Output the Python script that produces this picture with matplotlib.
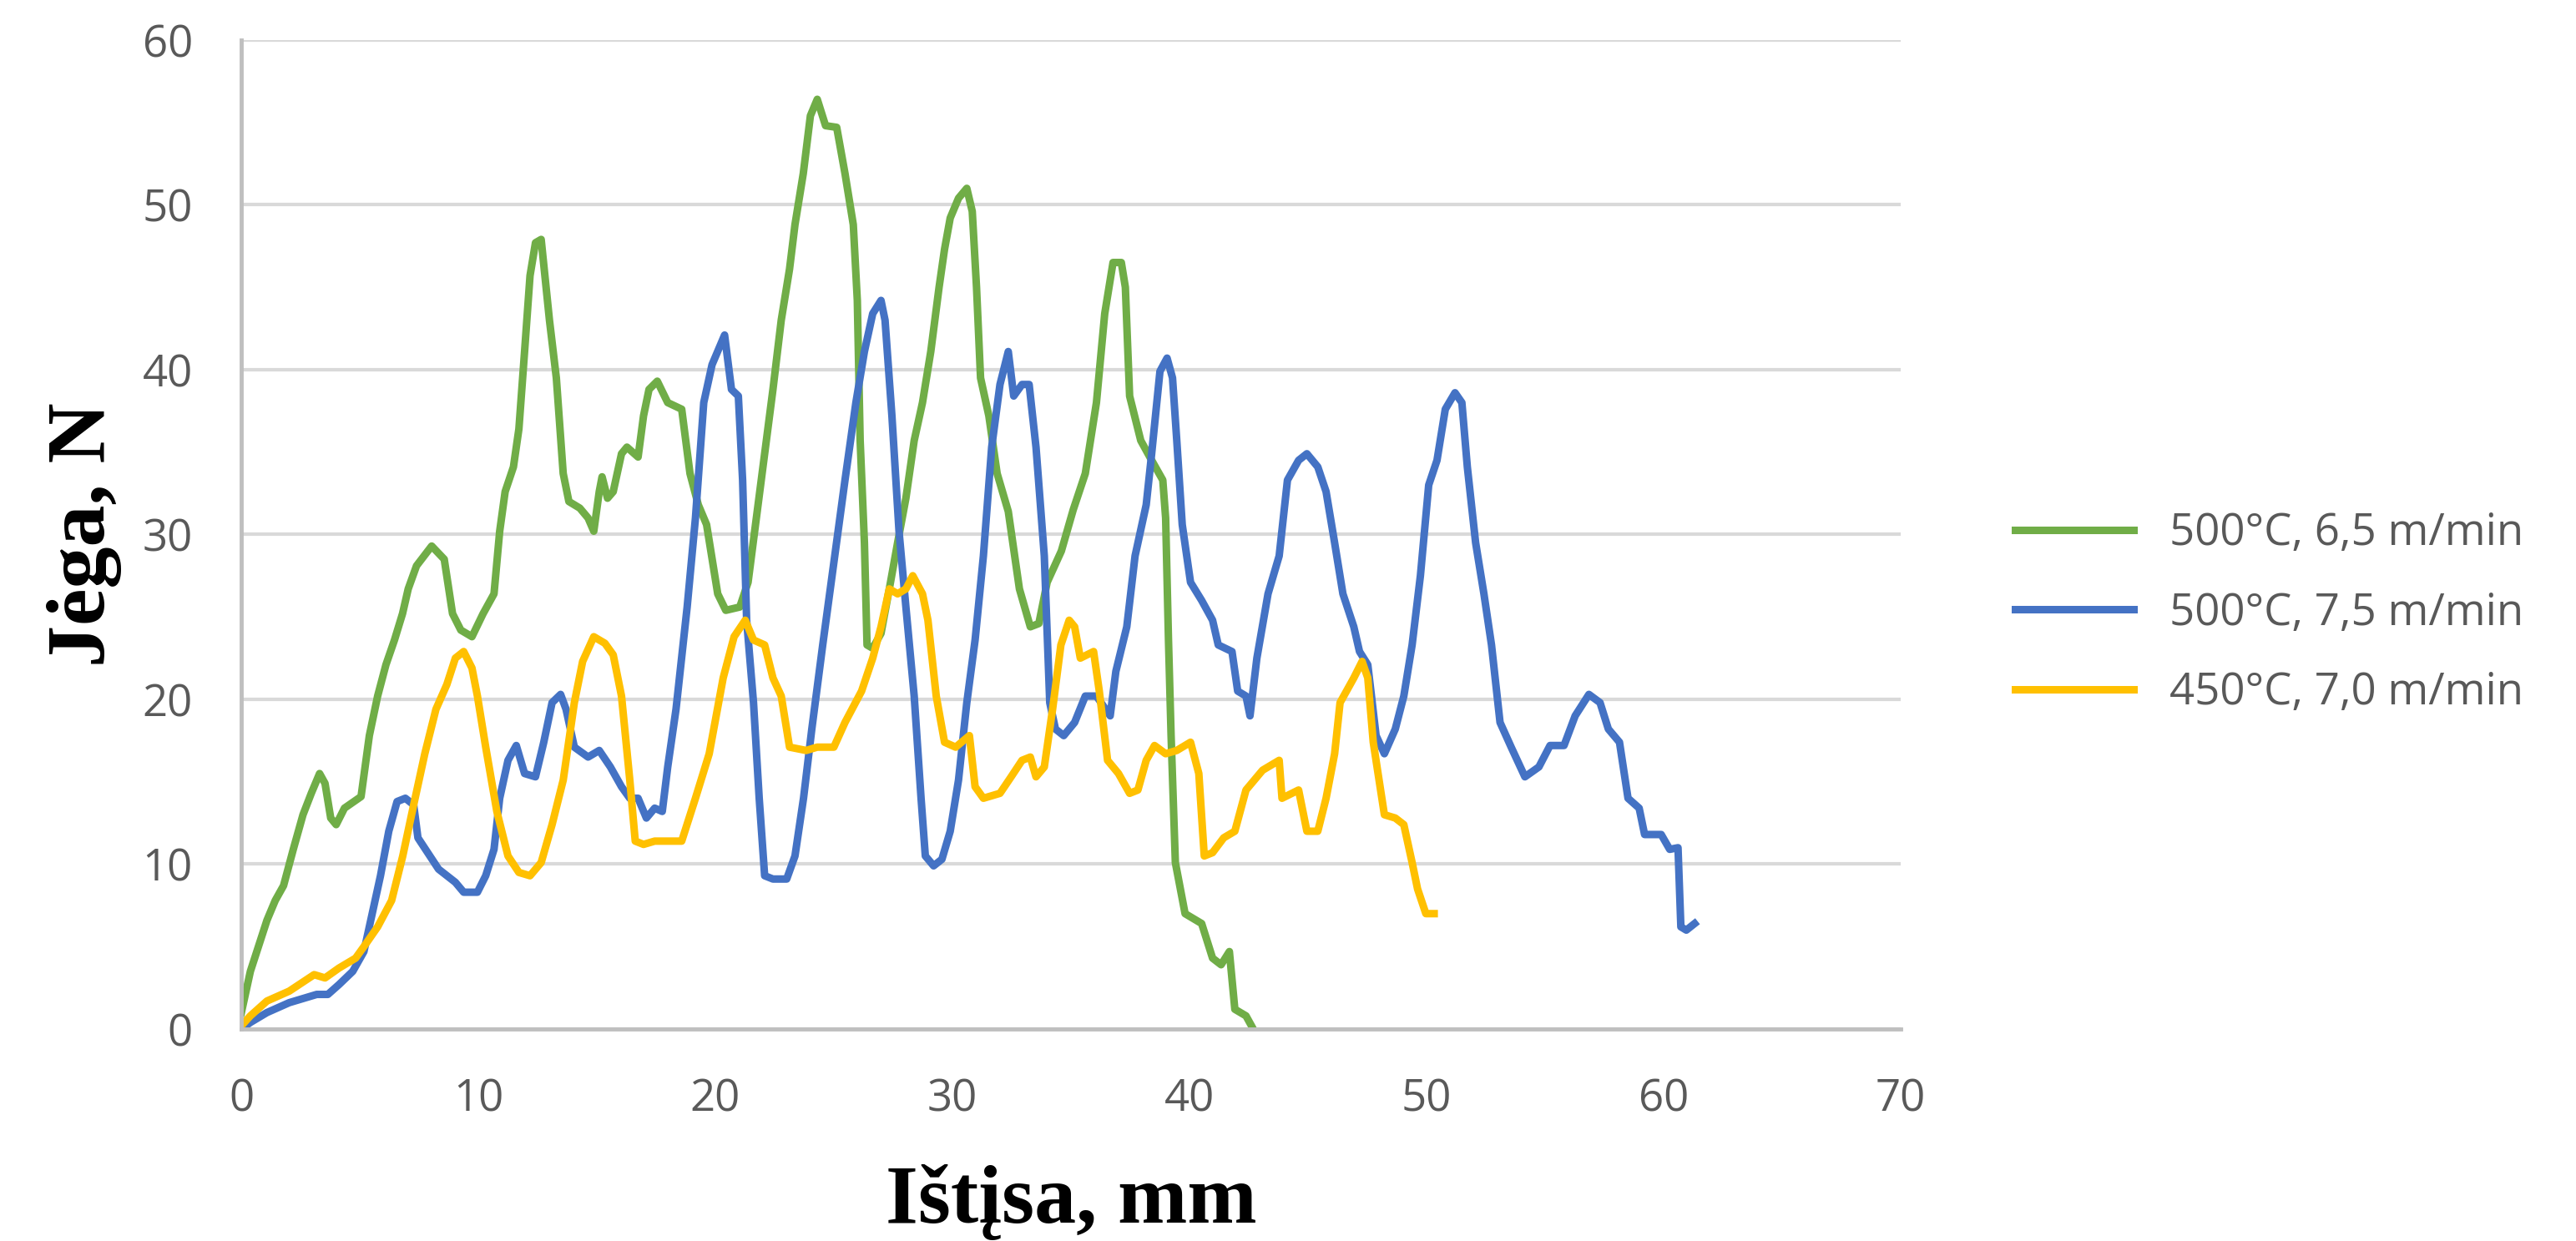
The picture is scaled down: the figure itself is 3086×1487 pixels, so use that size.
import matplotlib
matplotlib.use("Agg")
import matplotlib.pyplot as plt

# dane (Ištįsa, mm / Jėga, N)
green_x = [0, 0.38, 1.08, 1.43, 1.78, 2.19, 2.6, 2.95, 3.3, 3.53, 3.77, 4.0, 4.35, 5.05, 5.4, 5.75, 6.1, 6.46,
           6.8, 7.04, 7.39, 8.03, 8.56, 8.91, 9.26, 9.73, 10.2, 10.66, 10.9, 11.13, 11.48, 11.71, 11.95, 12.18,
           12.41, 12.65, 13.0, 13.29, 13.58, 13.82, 14.28, 14.63, 14.87, 15.1, 15.22, 15.45, 15.69, 16.04, 16.27,
           16.74, 16.97, 17.2, 17.55, 17.99, 18.58, 18.93, 19.28, 19.63, 20.1, 20.44, 21.03, 21.38, 21.73, 22.08,
           22.43, 22.78, 23.13, 23.36, 23.71, 24.01, 24.3, 24.65, 25.12, 25.47, 25.82, 25.99, 26.11, 26.29, 26.4,
           26.64, 26.99, 27.34, 27.69, 28.04, 28.39, 28.74, 29.09, 29.44, 29.67, 29.91, 30.26, 30.61, 30.84, 31.02,
           31.19, 31.54, 31.89, 32.36, 32.83, 33.29, 33.65, 34.0, 34.6, 35.1, 35.61, 36.08, 36.43, 36.78, 37.13,
           37.3, 37.48, 37.95, 38.41, 38.88, 39.0, 39.12, 39.23, 39.41, 39.82, 40.52, 40.98, 41.34, 41.69, 41.92,
           42.39, 42.62]
green_y = [1.0, 3.5, 6.6, 7.8, 8.7, 10.9, 13.0, 14.3, 15.5, 14.9, 12.8, 12.4, 13.4, 14.1, 17.8, 20.2, 22.1, 23.6,
           25.2, 26.7, 28.1, 29.3, 28.5, 25.2, 24.2, 23.8, 25.2, 26.4, 30.2, 32.6, 34.1, 36.4, 41.1, 45.7,
           47.7, 47.9, 43.0, 39.5, 33.7, 32.0, 31.6, 31.0, 30.2, 32.6, 33.5, 32.2, 32.6, 34.9, 35.3,
           34.7, 37.2, 38.8, 39.3, 38.0, 37.6, 33.7, 31.8, 30.6, 26.4, 25.4, 25.6, 27.1, 31.0, 34.9,
           38.8, 43.0, 46.1, 48.8, 51.9, 55.4, 56.4, 54.8, 54.7, 51.9, 48.8, 44.2, 35.7, 29.5, 23.3,
           23.1, 24.0, 26.7, 29.5, 32.2, 35.7, 38.0, 41.1, 45.0, 47.3, 49.2, 50.4, 51.0, 49.6, 45.0,
           39.5, 37.2, 33.7, 31.4, 26.7, 24.4, 24.6, 27.1, 29.0, 31.5, 33.7, 38.0, 43.4, 46.5, 46.5,
           45.0, 38.4, 35.7, 34.5, 33.3, 31.0, 23.6, 17.8, 10.1, 7.0, 6.4, 4.3, 3.9, 4.7, 1.2,
           0.8, 0.2]

blue_x = [0, 0.38, 1.08, 2.02, 2.72, 3.18, 3.65, 4.12, 4.7, 5.17, 5.52, 5.87, 6.22, 6.57, 6.92, 7.27, 7.45, 7.86,
          8.32, 9.03, 9.38, 9.96, 10.31, 10.66, 10.9, 11.25, 11.6, 11.95, 12.41, 12.76, 13.11, 13.47, 13.7, 14.05,
          14.63, 15.1, 15.57, 16.04, 16.39, 16.74, 17.09, 17.44, 17.76, 17.99, 18.34, 18.81, 19.16, 19.51, 19.86,
          20.39, 20.68, 20.97, 21.15, 21.32, 21.61, 21.85, 22.08, 22.43, 23.01, 23.36, 23.72, 24.07, 24.53, 25.0,
          25.47, 25.93, 26.29, 26.64, 26.99, 27.16, 27.45, 27.75, 28.04, 28.39, 28.68, 28.86, 29.21, 29.56, 29.91,
          30.26, 30.61, 30.96, 31.31, 31.66, 32.01, 32.36, 32.59, 32.94, 33.24, 33.53, 33.88, 34.11, 34.35, 34.7,
          35.16, 35.61, 36.08, 36.66, 36.9, 37.36, 37.71, 38.18, 38.41, 38.76, 39.06, 39.29, 39.47, 39.7, 40.05,
          40.52, 40.98, 41.22, 41.8, 42.04, 42.39, 42.56, 42.85, 43.32, 43.79, 44.14, 44.61, 44.96, 45.42, 45.77,
          46.13, 46.48, 46.94, 47.18, 47.53, 47.88, 48.23, 48.69, 49.05, 49.4, 49.75, 50.1, 50.45, 50.8, 51.21,
          51.5, 51.73, 52.08, 52.43, 52.75, 53.11, 53.58, 54.16, 54.75, 55.22, 55.81, 56.28, 56.86, 57.33, 57.68,
          58.15, 58.51, 58.98, 59.21, 59.91, 60.27, 60.62, 60.74, 60.97, 61.32]
blue_y = [0, 0.4, 1.0, 1.6, 1.9, 2.1, 2.1, 2.7, 3.5, 4.7, 7.0, 9.3, 12.0, 13.8, 14.0, 13.6, 11.6, 10.7,
          9.7, 8.9, 8.3, 8.3, 9.3, 10.9, 14.0, 16.3, 17.2, 15.5, 15.3, 17.4, 19.8, 20.3, 19.4, 17.1,
          16.5, 16.9, 15.9, 14.7, 14.0, 14.0, 12.8, 13.4, 13.2, 15.9, 19.4, 25.6, 31.0, 38.0, 40.3,
          42.1, 38.8, 38.4, 33.3, 24.8, 19.8, 14.0, 9.3, 9.1, 9.1, 10.5, 14.0, 18.2, 23.3, 28.3,
          33.3, 38.0, 41.1, 43.4, 44.2, 43.0, 37.2, 30.2, 25.6, 20.2, 14.0, 10.5, 9.9, 10.3, 12.0,
          15.1, 19.8, 23.6, 28.7, 35.3, 39.1, 41.1, 38.4, 39.1, 39.1, 35.3, 28.7, 19.8, 18.2, 17.8,
          18.6, 20.2, 20.2, 19.0, 21.7, 24.4, 28.7, 31.8, 34.9, 39.9, 40.7, 39.5, 35.7, 30.6, 27.1,
          26.0, 24.8, 23.3, 22.9, 20.5, 20.2, 19.0, 22.5, 26.4, 28.7, 33.3, 34.5, 34.9, 34.1, 32.6,
          29.5, 26.4, 24.4, 22.9, 22.1, 17.8, 16.7, 18.2, 20.2, 23.3, 27.5, 33.0, 34.5, 37.6, 38.6,
          38.0, 34.1, 29.5, 26.4, 23.3, 18.6, 17.1, 15.3, 15.9, 17.2, 17.2, 19.0, 20.3, 19.8, 18.2,
          17.4, 14.0, 13.4, 11.8, 11.8, 10.9, 11.0, 6.2, 6.0, 6.4]

yellow_x = [0, 0.38, 1.08, 2.02, 3.07, 3.53, 4.12, 4.82, 5.17, 5.75, 6.34, 6.81, 7.27, 7.74, 8.21, 8.67, 9.03,
            9.38, 9.73, 9.96, 10.31, 10.78, 11.25, 11.71, 12.18, 12.65, 13.11, 13.58, 14.05, 14.4, 14.87, 15.34,
            15.69, 16.04, 16.39, 16.62, 16.97, 17.44, 17.99, 18.58, 19.16, 19.74, 20.33, 20.79, 21.26, 21.61,
            22.08, 22.43, 22.78, 23.13, 23.83, 24.3, 25.0, 25.47, 26.17, 26.64, 26.99, 27.34, 27.69, 28.04,
            28.33, 28.74, 28.97, 29.32, 29.67, 30.14, 30.72, 30.96, 31.31, 32.01, 32.48, 32.94, 33.29, 33.53,
            33.88, 34.23, 34.58, 34.93, 35.16, 35.4, 35.96, 36.2, 36.55, 37.01, 37.48, 37.83, 38.18, 38.53,
            39.0, 39.47, 40.05, 40.4, 40.63, 40.98, 41.45, 41.92, 42.39, 43.09, 43.79, 43.91, 44.61, 44.96,
            45.42, 45.77, 46.13, 46.36, 46.94, 47.29, 47.53, 47.76, 48.23, 48.69, 49.05, 49.4, 49.63, 49.98, 50.33]
yellow_y = [0.2, 0.8, 1.7, 2.3, 3.3, 3.1, 3.7, 4.3, 5.0, 6.2, 7.8, 10.5, 13.6, 16.7, 19.4, 20.9, 22.5,
            22.9, 21.9, 20.2, 17.1, 13.2, 10.5, 9.5, 9.3, 10.1, 12.4, 15.1, 19.8, 22.3, 23.8, 23.4,
            22.7, 20.2, 15.1, 11.4, 11.2, 11.4, 11.4, 11.4, 14.0, 16.7, 21.3, 23.8, 24.8, 23.6,
            23.3, 21.3, 20.2, 17.1, 16.9, 17.1, 17.1, 18.6, 20.5, 22.5, 24.4, 26.7, 26.4, 26.7,
            27.5, 26.4, 24.8, 20.2, 17.4, 17.1, 17.8, 14.7, 14.0, 14.3, 15.3, 16.3, 16.5, 15.3,
            15.9, 19.4, 23.3, 24.8, 24.4, 22.5, 22.9, 20.5, 16.3, 15.5, 14.3, 14.5, 16.3, 17.2,
            16.7, 16.9, 17.4, 15.5, 10.5, 10.7, 11.6, 12.0, 14.5, 15.7, 16.3, 14.0, 14.5, 12.0,
            12.0, 14.0, 16.7, 19.8, 21.3, 22.3, 21.3, 17.4, 13.0, 12.8, 12.4, 10.1, 8.5, 7.0, 7.0]

labels = ["500°C, 6,5 m/min", "500°C, 7,5 m/min", "450°C, 7,0 m/min"]
colors = ["#70AD47", "#4472C4", "#FFC000"]

fig = plt.figure(figsize=(30.86, 14.87), dpi=100)
ax = fig.add_axes([0.0937, 0.1708, 0.644, 0.797])

ax.plot(green_x, green_y, color=colors[0], lw=6.5, label=labels[0])
ax.plot(blue_x, blue_y, color=colors[1], lw=6.5, label=labels[1])
ax.plot(yellow_x, yellow_y, color=colors[2], lw=6.5, label=labels[2])

ax.set_xlim(0, 70)
ax.set_ylim(0, 60)
ax.set_xticks(range(0, 71, 10))
ax.set_yticks(range(0, 61, 10))
ax.grid(axis="y", color="#D9D9D9", lw=3)
ax.set_axisbelow(True)
for s in ["top", "right"]:
    ax.spines[s].set_visible(False)
for s in ["left", "bottom"]:
    ax.spines[s].set_color("#BFBFBF")
    ax.spines[s].set_linewidth(3.5)
ax.tick_params(length=0, pad=42, labelsize=38, labelcolor="#595959")
for t in ax.get_xticklabels() + ax.get_yticklabels():
    t.set_fontfamily("Open Sans")

ax.set_xlabel("Ištįsa, mm", fontsize=72, fontweight="bold", family="Liberation Serif", va="baseline")
ax.xaxis.set_label_coords(0.5, -0.1958)
ax.set_ylabel("Jėga, N", fontsize=72, fontweight="bold", family="Liberation Serif", va="baseline")
ax.yaxis.set_label_coords(-0.0825, 0.5)

leg = fig.legend(loc="center left", bbox_to_anchor=(0.7822, 0.5057), frameon=False,
                 handlelength=2.7, handletextpad=0.8, labelspacing=0.8, borderpad=0, borderaxespad=0,
                 prop={"family": "Open Sans", "size": 38})
for t in leg.get_texts():
    t.set_color("#595959")

fig.savefig("out.png", dpi=100)
